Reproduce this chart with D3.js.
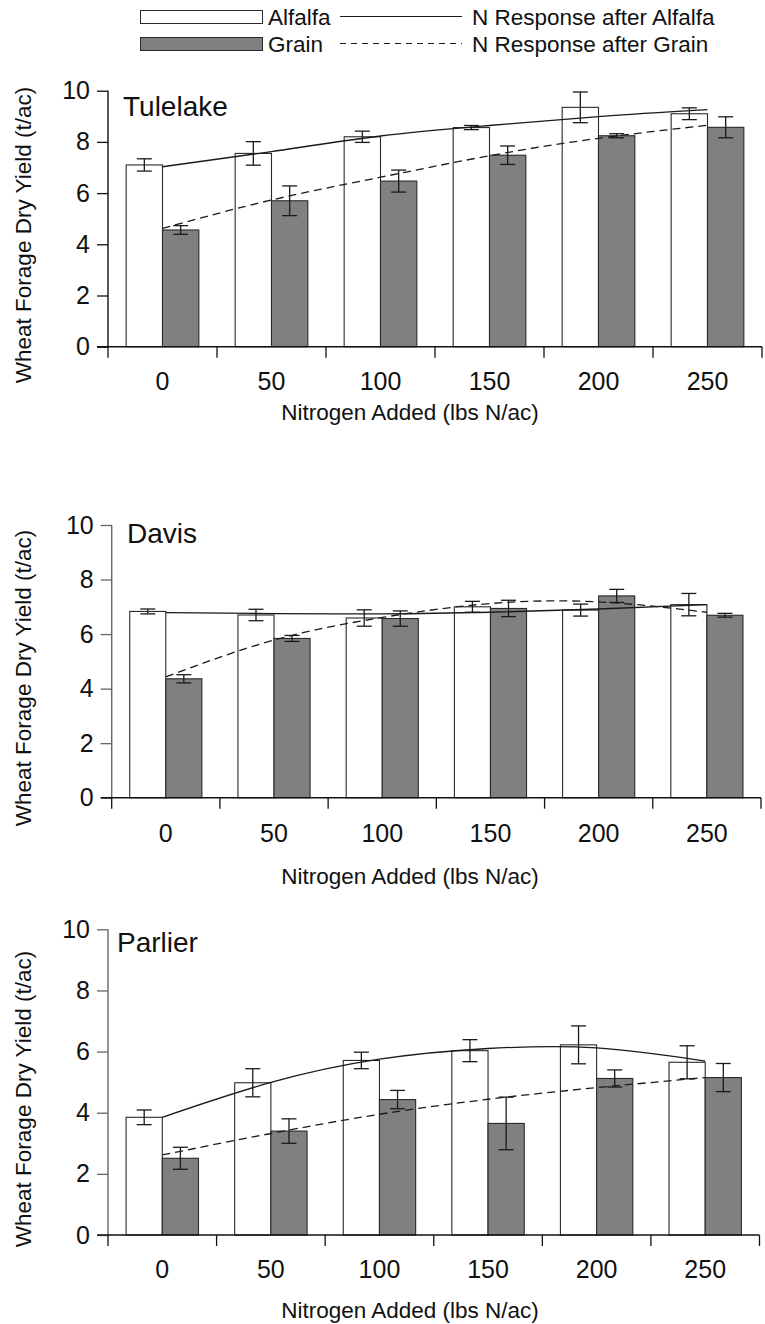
<!DOCTYPE html>
<html lang="en">
<head>
  <meta charset="UTF-8">
  <title>Wheat forage N response</title>
  <style>
    body { margin: 0; background: #fff; }
    svg text { font-family: 'Liberation Sans', Arial, sans-serif; fill: #111; }
  </style>
</head>
<body>
  <div class="chart"></div>
  <script src="https://cdn.jsdelivr.net/npm/d3@7"></script>
  <script>
    // N rates (lbs N/ac)
    const nRates = [0, 50, 100, 150, 200, 250]
    const yTicks = [0, 2, 4, 6, 8, 10]

    // Tulelake
    const tulelakeAlfalfa = [7.10, 7.55, 8.20, 8.56, 9.35, 9.10]
    const tulelakeAlfalfaSE = [0.24, 0.46, 0.22, 0.08, 0.60, 0.23]
    const tulelakeGrain = [4.56, 5.70, 6.47, 7.48, 8.24, 8.57]
    const tulelakeGrainSE = [0.17, 0.58, 0.43, 0.36, 0.08, 0.41]
    const tulelakeAlfalfaFit = [7.03, 7.62, 8.23, 8.64, 8.99, 9.26]
    const tulelakeGrainFit = [4.62, 5.73, 6.62, 7.46, 8.14, 8.65]

    // Davis
    const davisAlfalfa = [6.83, 6.70, 6.59, 7.00, 6.88, 7.08]
    const davisAlfalfaSE = [0.09, 0.21, 0.30, 0.20, 0.22, 0.41]
    const davisGrain = [4.36, 5.84, 6.57, 6.94, 7.40, 6.69]
    const davisGrainSE = [0.15, 0.11, 0.28, 0.30, 0.24, 0.07]
    const davisAlfalfaFit = [6.79, 6.75, 6.74, 6.80, 6.92, 7.08]
    const davisGrainFit = [4.43, 5.78, 6.61, 7.12, 7.18, 6.80]

    // Parlier
    const parlierAlfalfa = [3.85, 4.98, 5.71, 6.03, 6.22, 5.65]
    const parlierAlfalfaSE = [0.24, 0.46, 0.27, 0.36, 0.62, 0.54]
    const parlierGrain = [2.51, 3.40, 4.43, 3.65, 5.12, 5.15]
    const parlierGrainSE = [0.36, 0.40, 0.30, 0.86, 0.28, 0.46]
    const parlierAlfalfaFit = [3.85, 4.99, 5.75, 6.10, 6.12, 5.69]
    const parlierGrainFit = [2.62, 3.32, 3.95, 4.44, 4.82, 5.15]

    const panels = [
      { name: 'Tulelake', left: 108, right: 762, top: 90.7, bottom: 346.7, yTitleMid: 235, xTitleY: 420, tickLabelY: 390, titleX: 123, titleY: 116, axisColor: '#111',
        alfalfa: tulelakeAlfalfa, alfalfaSE: tulelakeAlfalfaSE, grain: tulelakeGrain, grainSE: tulelakeGrainSE,
        alfalfaFit: tulelakeAlfalfaFit, grainFit: tulelakeGrainFit },
      { name: 'Davis', left: 111.7, right: 761, top: 525, bottom: 797.7, yTitleMid: 678, xTitleY: 884, tickLabelY: 842, titleX: 127, titleY: 543, axisColor: '#666',
        alfalfa: davisAlfalfa, alfalfaSE: davisAlfalfaSE, grain: davisGrain, grainSE: davisGrainSE,
        alfalfaFit: davisAlfalfaFit, grainFit: davisGrainFit },
      { name: 'Parlier', left: 108, right: 759.5, top: 929.3, bottom: 1235, yTitleMid: 1099, xTitleY: 1318, tickLabelY: 1278, titleX: 117, titleY: 952, axisColor: '#666',
        alfalfa: parlierAlfalfa, alfalfaSE: parlierAlfalfaSE, grain: parlierGrain, grainSE: parlierGrainSE,
        alfalfaFit: parlierAlfalfaFit, grainFit: parlierGrainFit }
    ]

    const width = 765
    const height = 1324
    const svg = d3.select('.chart').append('svg')
      .attr('width', width)
      .attr('height', height)

    const grainFill = '#808080'
    const barStroke = '#2a2a2a'
    const lineColor = '#1a1a1a'

    // legend
    const legend = svg.append('g').attr('class', 'legend')
    legend.append('rect').attr('x', 140.5).attr('y', 10.5).attr('width', 122).attr('height', 13)
      .attr('fill', '#fff').attr('stroke', barStroke)
    legend.append('rect').attr('x', 140.5).attr('y', 37.5).attr('width', 122).attr('height', 13)
      .attr('fill', grainFill).attr('stroke', barStroke)
    legend.append('text').attr('x', 268).attr('y', 25).style('font-size', '22.5px').text('Alfalfa')
    legend.append('text').attr('x', 268).attr('y', 52).style('font-size', '22.5px').text('Grain')
    legend.append('line').attr('x1', 340).attr('x2', 462).attr('y1', 16.5).attr('y2', 16.5)
      .attr('stroke', lineColor).attr('stroke-width', 1.2)
    legend.append('line').attr('x1', 340).attr('x2', 462).attr('y1', 43.5).attr('y2', 43.5)
      .attr('stroke', lineColor).attr('stroke-width', 1.2).attr('stroke-dasharray', '6,5')
    legend.append('text').attr('x', 472).attr('y', 25).style('font-size', '22.5px').text('N Response after Alfalfa')
    legend.append('text').attr('x', 472).attr('y', 52).style('font-size', '22.5px').text('N Response after Grain')

    panels.forEach(p => {
      const g = svg.append('g').attr('class', 'panel')

      const x = d3.scaleBand().domain(nRates).range([p.left, p.right]).paddingInner(0).paddingOuter(0)
      const sub = d3.scaleBand().domain(['alfalfa', 'grain']).range([0, x.bandwidth()]).paddingInner(0).paddingOuter(0.5)
      const y = d3.scaleLinear().domain([0, 10]).range([p.bottom, p.top])
      const cx = n => x(n) + x.bandwidth() / 2

      const rows = nRates.map((n, i) => ({
        n,
        bars: [
          { key: 'alfalfa', v: p.alfalfa[i], se: p.alfalfaSE[i] },
          { key: 'grain', v: p.grain[i], se: p.grainSE[i] }
        ]
      }))

      // bars
      const grp = g.selectAll('.grp').data(rows).enter().append('g')
        .attr('transform', d => `translate(${x(d.n)},0)`)
      grp.selectAll('rect').data(d => d.bars).enter().append('rect')
        .attr('x', d => sub(d.key))
        .attr('y', d => y(d.v))
        .attr('width', sub.bandwidth())
        .attr('height', d => y(0) - y(d.v))
        .attr('fill', d => d.key === 'grain' ? grainFill : '#fff')
        .attr('stroke', barStroke)
        .attr('stroke-width', 1.1)

      // error bars
      const err = grp.selectAll('.err').data(d => d.bars).enter().append('g')
        .attr('transform', d => `translate(${sub(d.key) + sub.bandwidth() / 2},0)`)
        .attr('stroke', lineColor).attr('stroke-width', 1.3)
      err.append('line').attr('x1', 0).attr('x2', 0)
        .attr('y1', d => y(d.v + d.se)).attr('y2', d => y(d.v - d.se))
      err.append('line').attr('x1', -7.5).attr('x2', 7.5)
        .attr('y1', d => y(d.v + d.se)).attr('y2', d => y(d.v + d.se))
      err.append('line').attr('x1', -7.5).attr('x2', 7.5)
        .attr('y1', d => y(d.v - d.se)).attr('y2', d => y(d.v - d.se))

      // response curves
      const line = d3.line().x((d, i) => cx(nRates[i])).y(d => y(d)).curve(d3.curveNatural)
      g.append('path').attr('d', line(p.alfalfaFit))
        .attr('fill', 'none').attr('stroke', lineColor).attr('stroke-width', 1.3)
      g.append('path').attr('d', line(p.grainFit))
        .attr('fill', 'none').attr('stroke', lineColor).attr('stroke-width', 1.3)
        .attr('stroke-dasharray', '8,5')

      // y axis
      const yAxis = g.append('g')
        .attr('transform', `translate(${p.left},0)`)
        .call(d3.axisLeft(y).tickValues(yTicks).tickSize(11).tickPadding(7).tickFormat(d3.format('d')))
      yAxis.select('.domain').attr('stroke', p.axisColor).attr('stroke-width', 1.4).attr('d', `M0,${p.bottom}V${p.top}`)
      yAxis.selectAll('.tick line').attr('stroke', p.axisColor).attr('stroke-width', 1.3)
      yAxis.selectAll('.tick text').style('font-size', '25px').attr('fill', '#111')
        .style('font-family', "'Liberation Sans', Arial, sans-serif")

      // x axis: ticks at band edges, labels centred
      const edges = nRates.map(n => x(n)).concat([p.right])
      g.append('line').attr('x1', p.left - 11).attr('x2', p.right)
        .attr('y1', p.bottom).attr('y2', p.bottom)
        .attr('stroke', '#111').attr('stroke-width', 1.4)
      g.selectAll('.xtick').data(edges).enter().append('line')
        .attr('x1', d => d).attr('x2', d => d)
        .attr('y1', p.bottom).attr('y2', p.bottom + 11)
        .attr('stroke', '#111').attr('stroke-width', 1.3)
      g.selectAll('.xlab').data(nRates).enter().append('text')
        .attr('x', d => cx(d)).attr('y', p.tickLabelY)
        .attr('text-anchor', 'middle').style('font-size', '25px')
        .text(d => d)

      // titles
      g.append('text').attr('x', p.titleX).attr('y', p.titleY).style('font-size', '28px').text(p.name)
      g.append('text').attr('x', 410).attr('y', p.xTitleY).attr('text-anchor', 'middle')
        .style('font-size', '22.5px').text('Nitrogen Added (lbs N/ac)')
      g.append('text')
        .attr('transform', `translate(31,${p.yTitleMid}) rotate(-90)`)
        .attr('text-anchor', 'middle').style('font-size', '22.5px')
        .text('Wheat Forage Dry Yield (t/ac)')
    })
  </script>
</body>
</html>
